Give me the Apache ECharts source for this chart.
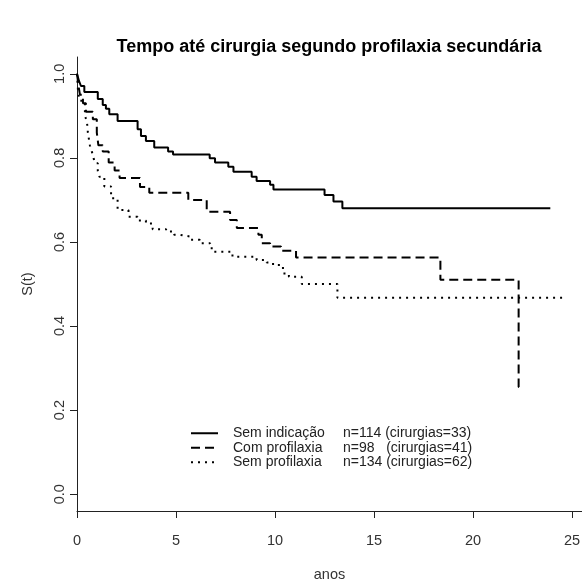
<!DOCTYPE html>
<html>
<head>
<meta charset="utf-8">
<script src="https://cdn.jsdelivr.net/npm/echarts@6/dist/echarts.min.js"></script>
<style>html,body{margin:0;padding:0;background:#fff}#c{width:582px;height:581px}</style>
</head>
<body>
<div id="c"></div>
<script>
// ---- data ----
const titleText = 'Tempo até cirurgia segundo profilaxia secundária';
const xTicks = [0, 5, 10, 15, 20, 25];
const yTicks = [0, 0.2, 0.4, 0.6, 0.8, 1.0];
const seriesNames = ['Sem indicação', 'Com profilaxia', 'Sem profilaxia'];
const seriesStats = ['n=114 (cirurgias=33)', 'n=98   (cirurgias=41)', 'n=134 (cirurgias=62)'];

const semIndTime = [0, 0.1, 0.2, 0.37, 1.05, 1.3, 1.46, 1.63, 2.05, 3.06, 3.23, 3.48, 3.9, 4.6, 4.85, 6.7, 6.97, 7.64, 7.9, 8.82, 9.07, 9.75, 9.92, 12.5, 12.95, 13.4, 23.9];
const semIndSurv = [1.0, 0.983, 0.971, 0.957, 0.94, 0.926, 0.917, 0.904, 0.888, 0.868, 0.852, 0.84, 0.825, 0.815, 0.808, 0.799, 0.789, 0.779, 0.767, 0.755, 0.745, 0.736, 0.725, 0.712, 0.696, 0.68, 0.68];

const comProfTime = [0, 0.08, 0.15, 0.3, 0.45, 0.8, 1.0, 1.08, 1.3, 1.6, 1.9, 2.15, 3.18, 3.65, 5.62, 6.55, 7.73, 8.07, 9.16, 9.33, 9.75, 10.3, 11.06, 18.35, 22.3, 22.45];
const comProfSurv = [1.0, 0.97, 0.95, 0.93, 0.91, 0.892, 0.86, 0.83, 0.815, 0.789, 0.77, 0.752, 0.731, 0.717, 0.70, 0.672, 0.652, 0.633, 0.617, 0.597, 0.589, 0.579, 0.563, 0.51, 0.255, 0.255];

const semProfTime = [0, 0.05, 0.12, 0.25, 0.4, 0.5, 0.55, 0.65, 0.75, 0.85, 0.92, 1.05, 1.13, 1.38, 1.72, 2.05, 2.6, 3.06, 3.48, 3.82, 4.5, 4.9, 5.2, 5.7, 6.2, 6.72, 6.9, 7.85, 9.07, 9.58, 9.9, 10.4, 10.7, 11.35, 13.15, 24.5];
const semProfSurv = [1.0, 0.96, 0.936, 0.928, 0.90, 0.887, 0.86, 0.83, 0.815, 0.797, 0.787, 0.769, 0.755, 0.732, 0.704, 0.676, 0.66, 0.651, 0.644, 0.63, 0.625, 0.617, 0.613, 0.605, 0.597, 0.585, 0.577, 0.565, 0.557, 0.551, 0.545, 0.525, 0.517, 0.50, 0.467, 0.467];

// ---- chart ----
const FONT = '"Liberation Sans", Arial, sans-serif';
const pairs = (t, s) => t.map((v, i) => [v, s[i]]);
const mk = (name, t, s, type, dash) => ({
  name: name, type: 'line', step: 'end', symbol: 'none', silent: true,
  data: pairs(t, s),
  lineStyle: { color: '#000', width: 2, type: dash || type, cap: 'butt' },
  itemStyle: { color: '#000' }
});

const chart = echarts.init(document.getElementById('c'), null, { renderer: 'canvas' });
chart.setOption({
  animation: false,
  backgroundColor: '#fff',
  title: {
    text: titleText, left: 324, top: 33, textAlign: 'center',
    textStyle: { fontFamily: FONT, fontWeight: 'bold', fontSize: 18, color: '#000' }
  },
  grid: { left: 77, right: 0, top: 57, bottom: 70, containLabel: false, outerBoundsMode: 'none' },
  xAxis: {
    type: 'value', min: 0, max: 25.5,
    name: 'anos', nameLocation: 'middle', nameGap: 56,
    nameTextStyle: { fontFamily: FONT, fontSize: 14.5, color: '#333' },
    axisLine: { onZero: false, lineStyle: { color: '#222', width: 1 } },
    axisTick: { show: true, length: 7, inside: false, customValues: xTicks, lineStyle: { color: '#222' } },
    axisLabel: { customValues: xTicks, margin: 22, fontFamily: FONT, fontSize: 14.5, color: '#333' },
    splitLine: { show: false }
  },
  yAxis: {
    type: 'value', min: -0.04, max: 1.04,
    name: 'S(t)', nameLocation: 'middle', nameGap: 42, nameRotate: 90,
    nameTextStyle: { fontFamily: FONT, fontSize: 14.5, color: '#333' },
    axisLine: { show: true, onZero: false, lineStyle: { color: '#222', width: 1 } },
    axisTick: { show: true, length: 7, inside: false, customValues: yTicks, lineStyle: { color: '#222' } },
    axisLabel: { customValues: yTicks, rotate: 90, margin: 10, fontFamily: FONT, fontSize: 14.5, color: '#333',
      formatter: v => v.toFixed(1) },
    splitLine: { show: false }
  },
  legend: {
    orient: 'vertical', left: 190, top: 426, padding: 0, itemWidth: 27, itemHeight: 12, itemGap: 0,
    data: seriesNames,
    itemStyle: { opacity: 0 },
    textStyle: {
      fontFamily: FONT, fontSize: 14, color: '#222', lineHeight: 14.5,
      rich: {
        s: { width: 10 },
        a: { width: 110, fontFamily: FONT, fontSize: 14, color: '#222', lineHeight: 14.5 },
        b: { fontFamily: FONT, fontSize: 14, color: '#222', lineHeight: 14.5 }
      }
    },
    formatter: name => '{s|}{a|' + name + '}{b|' + seriesStats[seriesNames.indexOf(name)] + '}'
  },
  series: [
    mk(seriesNames[0], semIndTime, semIndSurv, 'solid'),
    mk(seriesNames[1], comProfTime, comProfSurv, 'dashed', [9, 5]),
    mk(seriesNames[2], semProfTime, semProfSurv, 'dotted', [2, 5])
  ]
});
</script>
</body>
</html>
